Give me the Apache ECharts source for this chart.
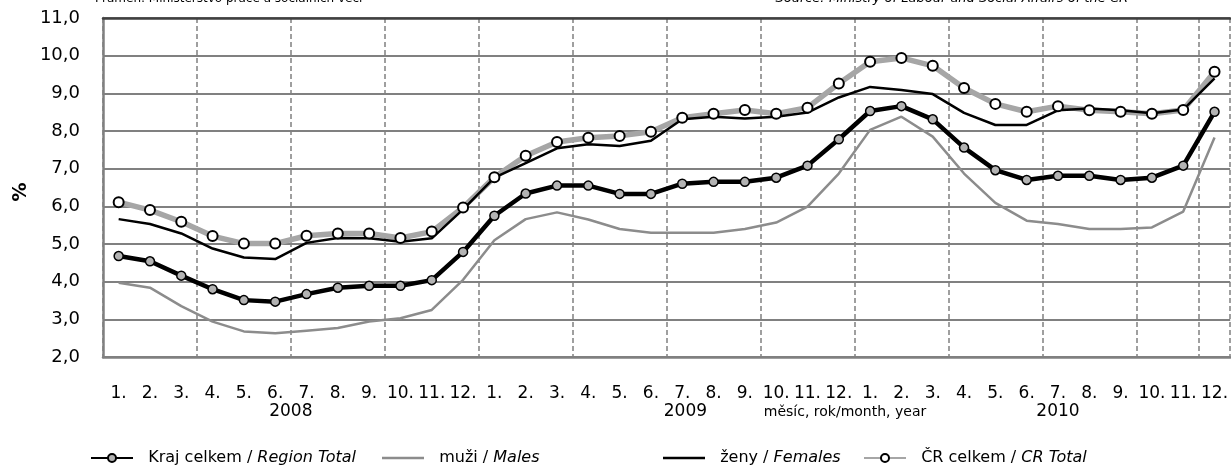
<!DOCTYPE html>
<html>
<head>
<meta charset="utf-8">
<script src="https://cdn.jsdelivr.net/npm/echarts@6/dist/echarts.min.js"></script>
<style>
  html, body { margin: 0; padding: 0; background: #fff; }
  #chart { width: 1231px; height: 468px; }
</style>
</head>
<body>
<div id="chart"></div>
<script>
  // months Jan 2008 .. Dec 2010
  var years = ['2008', '2009', '2010']
  var months = ['1.', '2.', '3.', '4.', '5.', '6.', '7.', '8.', '9.', '10.', '11.', '12.']
  var categories = []
  years.forEach(function (y) {
    months.forEach(function (m) { categories.push(y + '|' + m) })
  })

  // unemployment rate, %
  var regionTotal = [4.68, 4.54, 4.16, 3.80, 3.51, 3.47, 3.67, 3.84, 3.89, 3.89, 4.04, 4.79,
    5.75, 6.34, 6.55, 6.55, 6.33, 6.33, 6.60, 6.65, 6.65, 6.76, 7.08, 7.78,
    8.53, 8.66, 8.31, 7.56, 6.96, 6.70, 6.81, 6.81, 6.70, 6.76, 7.08, 8.51]
  var males = [3.97, 3.84, 3.35, 2.94, 2.68, 2.63, 2.70, 2.77, 2.94, 3.03, 3.25, 4.05,
    5.10, 5.66, 5.84, 5.65, 5.40, 5.30, 5.30, 5.30, 5.40, 5.57, 5.99, 6.87,
    8.03, 8.38, 7.85, 6.87, 6.09, 5.62, 5.53, 5.40, 5.40, 5.44, 5.86, 7.83]
  var females = [5.66, 5.53, 5.28, 4.88, 4.64, 4.60, 5.03, 5.16, 5.15, 5.06, 5.15, 5.92,
    6.76, 7.15, 7.54, 7.65, 7.60, 7.74, 8.31, 8.38, 8.33, 8.38, 8.49, 8.89,
    9.17, 9.09, 8.98, 8.48, 8.16, 8.16, 8.55, 8.60, 8.55, 8.47, 8.57, 9.40]
  var crTotal = [6.11, 5.90, 5.59, 5.21, 5.01, 5.01, 5.22, 5.28, 5.28, 5.16, 5.33, 5.97,
    6.77, 7.34, 7.71, 7.82, 7.87, 7.98, 8.35, 8.46, 8.56, 8.46, 8.62, 9.26,
    9.84, 9.94, 9.73, 9.14, 8.72, 8.51, 8.66, 8.55, 8.51, 8.46, 8.56, 9.57]

  var yTicks = [2, 3, 4, 5, 6, 7, 8, 9, 10, 11]

  var nRegion = 'Kraj celkem / Region Total'
  var nMales = 'muži / Males'
  var nFemales = 'ženy / Females'
  var nCR = 'ČR celkem / CR Total'

  var FONT = 'DejaVu Sans'
  var chart = echarts.init(document.getElementById('chart'))

  function legendItem (name, left, plain) {
    var lg = {
      data: [name],
      left: left,
      top: 445,
      itemWidth: 42,
      itemHeight: plain ? 2.5 : 10,
      textStyle: {
        fontFamily: FONT,
        fontSize: 16,
        color: '#000',
        rich: {
          i: { fontFamily: FONT, fontSize: 16, fontStyle: 'italic', color: '#000' }
        }
      },
      formatter: function (n) {
        var p = n.split(' / ')
        return '  ' + p[0] + ' / {i|' + p[1] + '}'
      }
    }
    if (plain) lg.data = [{ name: name, icon: 'rect' }]
    return lg
  }

  var option = {
    animation: false,
    backgroundColor: '#fff',
    grid: { left: 103, top: 18, width: 1131, height: 339 },
    legend: [
      legendItem(nRegion, 85),
      legendItem(nMales, 377, true),
      legendItem(nFemales, 658, true),
      legendItem(nCR, 858)
    ],
    xAxis: [
      {
        type: 'category',
        data: categories,
        boundaryGap: true,
        axisLine: { lineStyle: { color: '#808080', width: 2.5 } },
        axisTick: { show: false },
        axisLabel: {
          interval: 0,
          margin: 28,
          fontFamily: FONT,
          fontSize: 17,
          color: '#000',
          formatter: function (v) { return v.split('|')[1] }
        },
        splitLine: {
          show: true,
          interval: 2,
          lineStyle: { color: '#808080', width: 1.5, type: [5, 3] }
        }
      },
      {
        type: 'category',
        data: categories,
        position: 'top',
        axisLine: { lineStyle: { color: '#404040', width: 2.5 } },
        axisTick: { show: false },
        axisLabel: { show: false }
      }
    ],
    yAxis: {
      type: 'value',
      min: yTicks[0],
      max: yTicks[yTicks.length - 1],
      interval: 1,
      axisLine: { show: true, lineStyle: { color: '#808080', width: 2.5 } },
      axisTick: { show: false },
      axisLabel: {
        margin: 23,
        fontFamily: FONT,
        fontSize: 18,
        color: '#000',
        formatter: function (v) { return v.toFixed(1).replace('.', ',') }
      },
      splitLine: { lineStyle: { color: '#808080', width: 2 } }
    },
    series: [
      {
        name: nCR,
        type: 'line',
        data: crTotal,
        z: 2,
        symbol: 'circle',
        symbolSize: 10,
        showSymbol: false,
        lineStyle: { color: '#a6a6a6', width: 5.5 },
        itemStyle: { color: '#fff', borderColor: '#000', borderWidth: 2 }
      },
      {
        name: nMales,
        type: 'line',
        data: males,
        z: 3,
        symbol: 'none',
        lineStyle: { color: '#8c8c8c', width: 2.5 },
        itemStyle: { color: '#8c8c8c' }
      },
      {
        name: nFemales,
        type: 'line',
        data: females,
        z: 3,
        symbol: 'none',
        lineStyle: { color: '#000', width: 2.5 },
        itemStyle: { color: '#000' }
      },
      {
        // circles of CR total, kept above the females line
        name: nCR,
        type: 'line',
        data: crTotal,
        z: 4,
        symbol: 'circle',
        symbolSize: 10,
        lineStyle: { width: 0, opacity: 0 },
        itemStyle: { color: '#fff', borderColor: '#000', borderWidth: 2 }
      },
      {
        name: nRegion,
        type: 'line',
        data: regionTotal,
        z: 5,
        symbol: 'circle',
        symbolSize: 9,
        lineStyle: { color: '#000', width: 4.5 },
        itemStyle: { color: '#b3b3b3', borderColor: '#000', borderWidth: 1.5 }
      }
    ]
  }
  chart.setOption(option)

  // year labels below the month labels, axis name, unit and source lines
  var x0 = chart.convertToPixel({ xAxisIndex: 0 }, 0)
  var step = chart.convertToPixel({ xAxisIndex: 0 }, 1) - x0
  var yearAt = [5.5, 18.1, 30]
  var texts = years.map(function (y, i) {
    return {
      type: 'text', x: x0 + step * yearAt[i], y: 403,
      style: { text: y, fontFamily: FONT, fontSize: 17, fill: '#000', align: 'center' }
    }
  })
  texts.push(
    {
      type: 'text', x: 845, y: 405,
      style: { text: 'měsíc, rok/month, year', fontFamily: FONT, fontSize: 14, fill: '#000', align: 'center' }
    },
    {
      type: 'text', x: 12, y: 192, rotation: Math.PI / 2,
      style: { text: '%', fontFamily: FONT, fontSize: 19, fontWeight: 'bold', fill: '#000', align: 'center' }
    },
    {
      type: 'text', x: 95, y: -7,
      style: { text: 'Pramen: Ministerstvo práce a sociálních věcí', fontFamily: FONT, fontSize: 12, fill: '#000' }
    },
    {
      type: 'text', x: 1128, y: -8,
      style: { text: 'Source: Ministry of Labour and Social Affairs of the CR', fontFamily: FONT, fontSize: 13, fontStyle: 'italic', fill: '#000', align: 'right' }
    }
  )
  chart.setOption({ graphic: texts })
</script>
</body>
</html>
